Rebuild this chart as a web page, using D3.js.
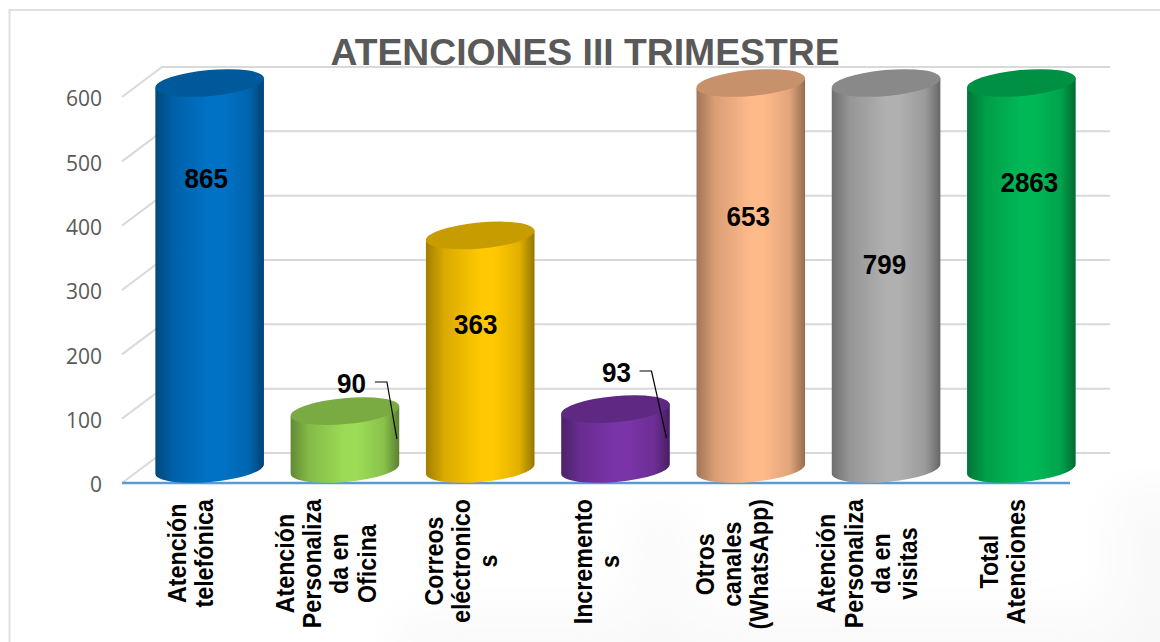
<!DOCTYPE html>
<html>
<head>
<meta charset="utf-8">
<script src="https://cdn.jsdelivr.net/npm/d3@7"></script>
<style>
  html, body { margin: 0; padding: 0; background: #fff; }
  svg { display: block; }
</style>
</head>
<body>
<div id="chart"></div>
<script>
"use strict";

// Values (the axis stops at 600, taller bars are cut there)
const categories = [
  ["Atención", "telefónica"],
  ["Atención", "Personaliza", "da en", "Oficina"],
  ["Correos", "eléctronico", "s"],
  ["Incremento", "s"],
  ["Otros", "canales", "(WhatsApp)"],
  ["Atención", "Personaliza", "da en", "visitas"],
  ["Total", "Atenciones"],
];
const values = [865, 90, 363, 93, 653, 799, 2863];
const barColors = ["#0072c6", "#9bdb55", "#ffc800", "#7a34a8", "#ffba8a", "#b0b0b0", "#00b956"];
const yTicks = [0, 100, 200, 300, 400, 500, 600];
const chartTitle = "ATENCIONES III TRIMESTRE";

const width = 1160,
  height = 642;

// labels were dragged by hand in the original: offset from bar centre, and absolute height
const labelDx = [-3.5, 6.5, -4.5, 1, -2.5, -1.5, 8];
const labelY = [178, 383, 324, 372.5, 216, 264, 182];
// leader lines for the two small bars, relative to the bar centre
const leaders = { 1: [[30, 382], [42, 382], [52, 439]], 3: [[24, 371], [36, 371], [51, 438]] };

const svg = d3
  .select("#chart")
  .append("svg")
  .attr("width", width)
  .attr("height", height)
  .attr("viewBox", [0, 0, width, height]);

const defs = svg.append("defs");

// faint smudges in the bottom of the slide background
defs.append("filter").attr("id", "smudge").append("feGaussianBlur").attr("stdDeviation", 26);
svg
  .append("rect")
  .attr("width", width)
  .attr("height", height)
  .attr("fill", "#fff");
const smudge = svg.append("g").attr("filter", "url(#smudge)").attr("fill", "#f8f8f8");
smudge.append("rect").attr("x", 1120).attr("y", 490).attr("width", 80).attr("height", 200);
smudge.append("rect").attr("x", 400).attr("y", 620).attr("width", 760).attr("height", 60);
smudge.append("rect").attr("x", 640).attr("y", 510).attr("width", 40).attr("height", 150);

// frame of the slide
svg
  .append("path")
  .attr("d", d3.line()([[9.5, height], [9.5, 10], [width, 10]]))
  .attr("fill", "none")
  .attr("stroke", "#e0e0e0")
  .attr("stroke-width", 2);

// three scales for the fake 3D: back wall, middle (bars), front edge
const yBack = d3.scaleLinear().domain([0, 600]).range([453, 67]);
const yFront = d3.scaleLinear().domain([0, 600]).range([483, 97]);
const yBar = d3.scaleLinear().domain([0, 600]).range([469, 83]).clamp(true);

const xBar = d3
  .scaleBand()
  .domain(d3.range(categories.length))
  .range([142, 1089])
  .padding(0.097)
  .paddingInner(0.194);
const xFront = d3.scaleBand().domain(d3.range(categories.length)).range([122, 1070]);

// Gridlines: diagonal on the side wall, then along the back
svg
  .append("g")
  .selectAll("path")
  .data(yTicks)
  .join("path")
  .attr("d", (d) => d3.line()([[122, yFront(d)], [162, yBack(d)], [1110, yBack(d)]]))
  .attr("fill", "none")
  .attr("stroke", "#d9d9d9")
  .attr("stroke-width", 2);

// Value axis
const yAxis = svg
  .append("g")
  .attr("transform", "translate(122,0)")
  .call(d3.axisLeft(yFront).tickValues(yTicks).tickSize(0).tickPadding(20))
  .call((g) => g.select(".domain").remove());
yAxis
  .selectAll("text")
  .attr("dy", "0.42em")
  .attr("font-family", "'Open Sans', sans-serif")
  .attr("font-size", 21)
  .attr("fill", "#595959");

// Front edge of the floor
svg
  .append("line")
  .attr("x1", 122)
  .attr("x2", 1070)
  .attr("y1", yFront(0))
  .attr("y2", yFront(0))
  .attr("stroke", "#5b9bd5")
  .attr("stroke-width", 2.5);

svg
  .append("text")
  .attr("x", 585)
  .attr("y", 65)
  .attr("text-anchor", "middle")
  .attr("font-family", "'Liberation Sans', sans-serif")
  .attr("font-weight", "bold")
  .attr("font-size", 37.3)
  .attr("fill", "#595959")
  .text(chartTitle);

// Cylinders
const tilt = -5.2,
  rx = xBar.bandwidth() / 2,
  ry = 13,
  tipX = rx * Math.cos((tilt * Math.PI) / 180),
  tipY = rx * Math.sin((tilt * Math.PI) / 180);

barColors.forEach((c, i) => {
  const grad = defs
    .append("linearGradient")
    .attr("id", `cyl-${i}`)
    .attr("x1", 0)
    .attr("x2", 1)
    .attr("y1", 0)
    .attr("y2", 0);
  [
    [0, 1.3],
    [0.17, 0.45],
    [0.5, 0],
    [0.62, 0],
    [0.86, 0.35],
    [1, 1.5],
  ].forEach(([offset, dark]) => {
    grad
      .append("stop")
      .attr("offset", offset)
      .attr("stop-color", d3.color(c).darker(dark).formatHex());
  });
});

const bars = svg
  .append("g")
  .selectAll("g")
  .data(values)
  .join("g")
  .attr("transform", (d, i) => `translate(${xBar(i) + rx},0)`);

bars
  .append("path")
  .attr("fill", (d, i) => `url(#cyl-${i})`)
  .attr("d", (d) => {
    const top = yBar(d),
      base = yBar(0);
    return (
      `M${-tipX},${top - tipY}L${-tipX},${base - tipY}` +
      `A${rx},${ry} ${tilt} 0 0 ${tipX},${base + tipY}` +
      `L${tipX},${top + tipY}Z`
    );
  });

bars
  .append("ellipse")
  .attr("rx", rx)
  .attr("ry", ry)
  .attr("transform", (d) => `translate(0,${yBar(d)}) rotate(${tilt})`)
  .attr("fill", (d, i) => d3.color(barColors[i]).darker(0.7).formatHex());

// Leader lines
Object.keys(leaders).forEach((i) => {
  svg
    .append("path")
    .attr("transform", `translate(${xBar(+i) + rx},0)`)
    .attr("d", d3.line()(leaders[i]))
    .attr("fill", "none")
    .attr("stroke", "#000")
    .attr("stroke-width", 1.2);
});

// Data labels: the picture's text is a bit narrower than the font, so squeeze it
const squeeze = 0.93;
svg
  .append("g")
  .selectAll("text")
  .data(values)
  .join("text")
  .attr("transform", (d, i) => `translate(${xBar(i) + rx + labelDx[i]},${labelY[i]}) scale(${squeeze},1)`)
  .attr("dy", "0.35em")
  .attr("text-anchor", "middle")
  .attr("font-family", "'Liberation Sans', sans-serif")
  .attr("font-weight", "bold")
  .attr("font-size", 28)
  .attr("fill", "#000")
  .text((d) => d);

// Category labels, rotated. Each block hangs from the same line just under the axis
const lineStep = 27.3;
const catLabels = svg
  .append("g")
  .selectAll("text")
  .data(categories)
  .join("text")
  .attr("text-anchor", "middle")
  .attr("font-family", "'Liberation Sans', sans-serif")
  .attr("font-weight", "bold")
  .attr("font-size", 25)
  .attr("fill", "#000");

catLabels
  .selectAll("tspan")
  .data((d) => d)
  .join("tspan")
  .attr("x", 0)
  .attr("y", (d, i, nodes) => (i - (nodes.length - 1) / 2) * lineStep + 9.5)
  .text((d) => d);

catLabels.attr("transform", function (d, i) {
  const longest = d3.max(this.querySelectorAll("tspan"), (t) => t.getComputedTextLength()) * squeeze;
  return `translate(${xFront(i) + xFront.bandwidth() / 2},${499 + longest / 2}) rotate(-90) scale(${squeeze},1)`;
});
</script>
</body>
</html>
